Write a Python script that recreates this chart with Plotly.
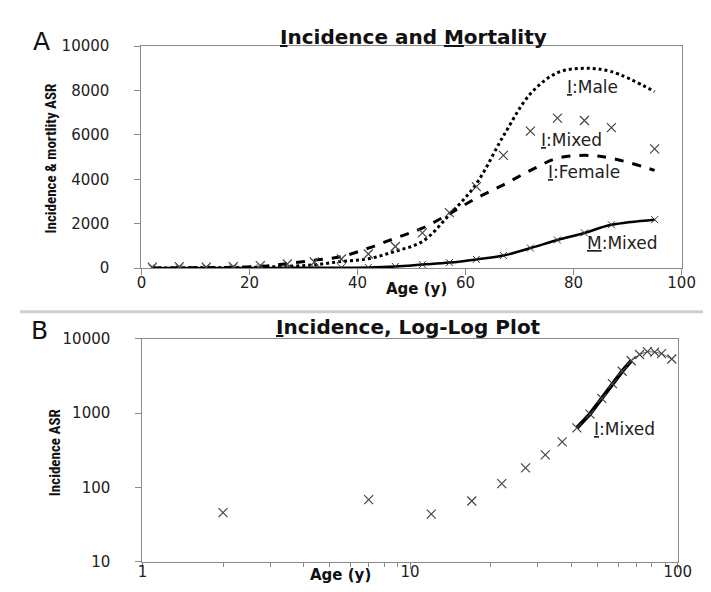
import plotly.graph_objects as go

# ---------------- data ----------------
ages = [2, 7, 12, 17, 22, 27, 32, 37, 42, 47, 52, 57, 62, 67, 72, 77, 82, 87, 95]
incidence_mixed = [46, 69, 44, 66, 113, 184, 276, 411, 635, 975, 1585, 2500, 3670,
                   5080, 6170, 6755, 6650, 6330, 5370]
incidence_male = [10, 12, 15, 25, 45, 80, 150, 300, 420, 760, 1200, 2400, 3800,
                  5950, 7850, 8800, 9000, 8850, 7950]
incidence_female = [10, 12, 20, 40, 80, 200, 360, 520, 900, 1350, 1800, 2450, 3150,
                    3750, 4400, 4950, 5080, 4950, 4400]
mortality_mixed = [5, 5, 5, 8, 10, 12, 15, 20, 30, 74, 160, 249, 393, 568, 904,
                   1266, 1585, 1950, 2183]
fit_start, fit_end = 8, 13   # indices of ages 42..67 (fitted log-log segment)

top_yticks = [0, 2000, 4000, 6000, 8000, 10000]
top_xticks = [0, 20, 40, 60, 80, 100]
log_yticks = [10, 100, 1000, 10000]
log_xticks = [1, 10, 100]
log_minor_xticks = [2, 3, 4, 5, 6, 7, 8, 9, 20, 30, 40, 50, 60, 70, 80, 90]

AXIS = "#8a8a8a"
TICKFONT = dict(family="DejaVu Sans, Verdana, sans-serif", size=15, color="#222")
NARROW = "Liberation Sans Narrow, Arial Narrow, Roboto Condensed, sans-serif"
LABELFONT = dict(family="DejaVu Sans, Calibri, sans-serif", size=17, color="#222")

fig = go.Figure()

# ---- Panel A ----
fig.add_trace(go.Scatter(x=ages, y=incidence_male, mode="lines",
                         line=dict(color="black", width=3, dash="dot", shape="spline"),
                         xaxis="x", yaxis="y", showlegend=False))
fig.add_trace(go.Scatter(x=ages, y=incidence_female, mode="lines",
                         line=dict(color="black", width=3, dash="dash", shape="spline"),
                         xaxis="x", yaxis="y", showlegend=False))
fig.add_trace(go.Scatter(x=ages, y=mortality_mixed, mode="lines+markers",
                         line=dict(color="black", width=2.5, shape="spline"),
                         marker=dict(symbol="x-thin", size=7, line=dict(color="#333", width=1)),
                         xaxis="x", yaxis="y", showlegend=False))
fig.add_trace(go.Scatter(x=ages, y=incidence_mixed, mode="markers",
                         marker=dict(symbol="x-thin", size=9, line=dict(color="#444", width=1.2)),
                         xaxis="x", yaxis="y", showlegend=False))

# ---- Panel B ----
fig.add_trace(go.Scatter(x=ages[fit_start:], y=incidence_mixed[fit_start:], mode="lines",
                         line=dict(color="#666", width=1),
                         xaxis="x2", yaxis="y2", showlegend=False))
fig.add_trace(go.Scatter(x=ages[fit_start:fit_end + 1], y=incidence_mixed[fit_start:fit_end + 1],
                         mode="lines", line=dict(color="black", width=4),
                         xaxis="x2", yaxis="y2", showlegend=False))
fig.add_trace(go.Scatter(x=ages, y=incidence_mixed, mode="markers",
                         marker=dict(symbol="x-thin", size=9, line=dict(color="#444", width=1.2)),
                         xaxis="x2", yaxis="y2", showlegend=False))

common = dict(showgrid=False, zeroline=False, showline=True, linecolor=AXIS, linewidth=1.3,
              mirror=True, ticks="outside", ticklen=6, tickcolor=AXIS, tickfont=TICKFONT)

fig.update_layout(
    width=711, height=592,
    margin=dict(l=0, r=0, t=0, b=0),
    paper_bgcolor="white", plot_bgcolor="white",
    xaxis=dict(domain=[132 / 711, 687 / 711], range=[0, 100], tickvals=top_xticks,
               ticklabelstandoff=-5, anchor="y", **common),
    yaxis=dict(domain=[333 / 592, 562 / 592], range=[0, 10000], tickvals=top_yticks,
               tickformat="d", ticklabelstandoff=22, anchor="x", **common),
    xaxis2=dict(domain=[133 / 711, 683 / 711], type="log", range=[0, 2], tickvals=log_xticks,
                ticktext=[str(v) for v in log_xticks], ticklabelstandoff=-10, anchor="y2",
                minor=dict(ticks="outside", ticklen=4, tickcolor=AXIS, tickvals=log_minor_xticks),
                **common),
    yaxis2=dict(domain=[30 / 592, 260 / 592], type="log", range=[1, 4], tickvals=log_yticks,
                ticktext=[str(v) for v in log_yticks], ticklabelstandoff=22, anchor="x2",
                **common),
)

def ann(text, x, y, font, xanchor="center", textangle=0):
    fig.add_annotation(text=text, x=x / 711, y=1 - y / 592, xref="paper", yref="paper",
                       showarrow=False, font=font, xanchor=xanchor, yanchor="middle",
                       textangle=textangle)

TITLEFONT = dict(family="DejaVu Sans, Verdana, sans-serif", size=20, color="#111")
ann("<b><u>I</u>ncidence and <u>M</u>ortality</b>", 411, 21, TITLEFONT)
ann("<b><u>I</u>ncidence, Log-Log Plot</b>", 406, 320, TITLEFONT)
ann("A", 29, 25, dict(family="DejaVu Sans, sans-serif", size=25, color="#111"))
ann("B", 27, 323, dict(family="DejaVu Sans, sans-serif", size=25, color="#111"))
ann("<b>Incidence &amp; mortlity ASR</b>", 39, 146, dict(family=NARROW, size=15, color="#111"),
    textangle=-90)
ann("<b>Incidence ASR</b>", 43, 449, dict(family=NARROW, size=15, color="#111"), textangle=-90)
AGEFONT = dict(family="DejaVu Sans, Verdana, sans-serif", size=15, color="#111")
ann("<b>Age (y)</b>", 415, 281, AGEFONT)
ann("<b>Age (y)</b>", 336, 576, AGEFONT)

ann("<u>I</u>:Male", 595, 72, LABELFONT)
ann("<u>I</u>:Mixed", 574, 127, LABELFONT)
ann("<u>I</u>:Female", 587, 160, LABELFONT)
ann("<u>M</u>:Mixed", 626, 233, LABELFONT)
ann("<u>I</u>:Mixed", 628, 425, LABELFONT)

fig.add_shape(type="line", xref="paper", yref="paper", x0=0.01, x1=1, y0=1 - 304 / 592,
              y1=1 - 304 / 592, line=dict(color="#cfcfcf", width=3))

fig.write_html("out.html")
